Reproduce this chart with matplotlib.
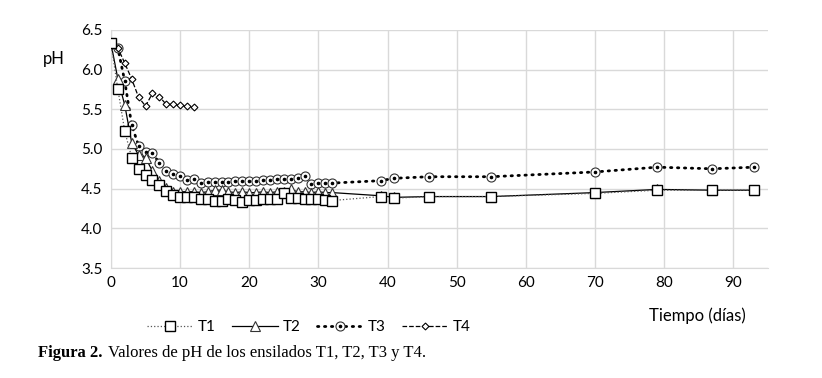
import matplotlib.pyplot as plt
from matplotlib.lines import Line2D

plt.rcParams['font.family'] = ['Lato', 'DejaVu Sans']

# dias de muestreo
dias_t1 = list(range(0, 33)) + [39, 41, 46, 55, 70, 79, 87, 93]
dias_t4 = list(range(0, 13))

t1 = [6.33, 5.75, 5.22, 4.89, 4.75, 4.67, 4.61, 4.54, 4.47, 4.42, 4.40,
      4.40, 4.39, 4.37, 4.37, 4.35, 4.35, 4.37, 4.36, 4.33, 4.36, 4.36,
      4.37, 4.37, 4.37, 4.44, 4.38, 4.38, 4.37, 4.37, 4.37, 4.36, 4.35,
      4.40, 4.38, 4.40, 4.40, 4.44, 4.48, 4.48, 4.48]
t2 = [6.33, 5.88, 5.55, 5.08, 4.92, 4.89, 4.72, 4.60, 4.51, 4.46, 4.46,
      4.46, 4.46, 4.45, 4.46, 4.48, 4.48, 4.46, 4.45, 4.46, 4.45, 4.45,
      4.46, 4.45, 4.46, 4.46, 4.49, 4.46, 4.46, 4.45, 4.46, 4.45, 4.45,
      4.41, 4.39, 4.40, 4.40, 4.45, 4.49, 4.48, 4.48]
t3 = [6.33, 6.27, 5.85, 5.30, 5.04, 4.96, 4.95, 4.82, 4.72, 4.69, 4.66,
      4.61, 4.62, 4.57, 4.58, 4.58, 4.58, 4.58, 4.59, 4.59, 4.59, 4.60,
      4.61, 4.61, 4.62, 4.62, 4.62, 4.64, 4.66, 4.56, 4.57, 4.57, 4.57,
      4.60, 4.63, 4.65, 4.65, 4.71, 4.77, 4.75, 4.77]
t4 = [6.33, 6.27, 6.08, 5.88, 5.65, 5.54, 5.70, 5.66, 5.56, 5.56, 5.55,
      5.54, 5.53]

fig = plt.figure(figsize=(8.22, 3.78), dpi=100)
ax = fig.add_axes([0.135, 0.291, 0.799, 0.630])

st1 = dict(ls=':', color='#555555', lw=0.9, marker='s', ms=7.5,
           mfc='white', mec='black', mew=1.0)
st2 = dict(ls='-', color='black', lw=0.9, marker='^', ms=6.5,
           mfc='white', mec='#333333', mew=0.8)
st3 = dict(ls=(0, (0.5, 2.0)), color='black', lw=2.0, marker='o', ms=6.5,
           mfc='white', mec='#333333', mew=0.8, dash_capstyle='round')
st3c = dict(ls='none', marker='o', ms=1.6, color='black')
st4 = dict(ls='--', color='black', lw=0.9, marker='D', ms=3.5,
           mfc='white', mec='black', mew=0.8)

ax.plot(dias_t1, t1, zorder=4, **st1)
ax.plot(dias_t1, t2, zorder=3, **st2)
ax.plot(dias_t1, t3, zorder=2, **st3)
ax.plot(dias_t1, t3, zorder=2, **st3c)
ax.plot(dias_t4, t4, zorder=2, **st4)

ax.set_xlim(0, 95)
ax.set_ylim(3.5, 6.5)
ax.set_xticks(range(0, 100, 10))
ax.set_yticks([3.5, 4.0, 4.5, 5.0, 5.5, 6.0, 6.5])
ax.set_yticklabels(['3.5', '4.0', '4.5', '5.0', '5.5', '6.0', '6.5'])
ax.grid(True, color='#d9d9d9', lw=1.0)
ax.set_axisbelow(True)
for s in ['top', 'right']:
    ax.spines[s].set_visible(False)
for s in ['left', 'bottom']:
    ax.spines[s].set_color('#d9d9d9')
ax.tick_params(length=0, labelsize=11, pad=6)

fig.text(0.052, 0.83, 'pH', fontsize=12)
fig.text(0.79, 0.15, 'Tiempo (días)', fontsize=12)

handles = [Line2D([], [], **st1), Line2D([], [], **st2),
           (Line2D([], [], **st3), Line2D([], [], **st3c)),
           Line2D([], [], **st4)]
fig.legend(handles, ['T1', 'T2', 'T3', 'T4'],
           loc='center left', bbox_to_anchor=(0.162, 0.135), ncol=4,
           frameon=False, fontsize=11, handlelength=3.0, columnspacing=1.1,
           handletextpad=0.3)

fig.text(0.046, 0.055, 'Figura 2.', fontsize=12, family='Liberation Serif',
         weight='bold')
fig.text(0.131, 0.055, 'Valores de pH de los ensilados T1, T2, T3 y T4.',
         fontsize=12, family='Liberation Serif')

fig.savefig('out.png', dpi=100)
